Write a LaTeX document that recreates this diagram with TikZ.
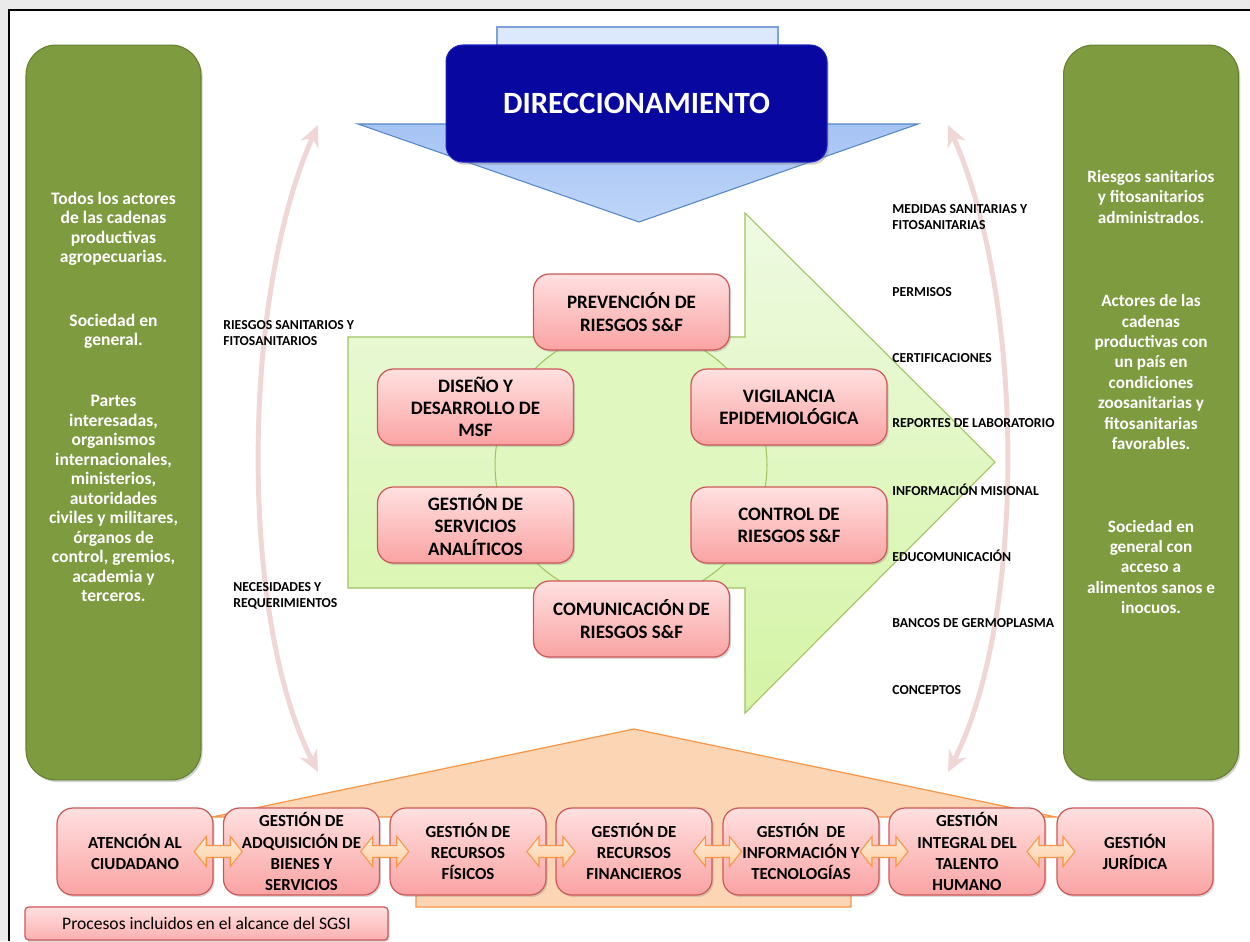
\documentclass[tikz,border=0pt]{standalone}
\usepackage{fontspec}
\setmainfont{Carlito}
\usetikzlibrary{arrows.meta,shadows,calc}
\definecolor{oliveg}{RGB}{126,155,63}
\definecolor{olivedk}{RGB}{100,128,45}
\definecolor{navy}{RGB}{8,8,160}
\definecolor{navytop}{RGB}{30,30,190}
\definecolor{bluetri}{RGB}{165,195,244}
\definecolor{bluetribot}{RGB}{190,213,248}
\definecolor{blueedge}{RGB}{85,135,200}
\definecolor{bluerect}{RGB}{220,232,251}
\definecolor{bluerectedge}{RGB}{126,161,214}
\definecolor{grtop}{RGB}{238,250,226}
\definecolor{grbot}{RGB}{212,244,164}
\definecolor{gredge}{RGB}{160,195,95}
\definecolor{circfill}{RGB}{224,248,192}
\definecolor{ptop}{RGB}{255,224,224}
\definecolor{pbot}{RGB}{250,163,163}
\definecolor{pedge}{RGB}{205,88,88}
\definecolor{ofill}{RGB}{252,214,180}
\definecolor{oedge}{RGB}{247,150,70}
\definecolor{afill}{RGB}{253,222,188}
\definecolor{arcc}{RGB}{240,214,213}
\definecolor{pagegray}{RGB}{234,234,234}
\begin{document}
\begin{tikzpicture}[x=0.02cm,y=-0.02cm,
  pbox/.style={draw=pedge, line width=0.7pt, rounded corners=9pt, top color=ptop, bottom color=pbot,
    align=center, text=black, inner xsep=2pt, inner ysep=0pt,
    drop shadow={opacity=0.3,shadow xshift=0.9pt,shadow yshift=-1.1pt}},
  cbox/.style={pbox, minimum width=3.92cm, minimum height=1.52cm, font=\bfseries\fontsize{10.8}{12.7}\selectfont},
  bbox/.style={pbox, minimum width=3.12cm, minimum height=1.74cm, font=\bfseries\fontsize{9.6}{12}\selectfont},
  gbox/.style={fill=oliveg, draw=olivedk, line width=0.6pt, rounded corners=17pt, minimum width=3.5cm, minimum height=14.7cm,
    drop shadow={opacity=0.35,shadow xshift=1pt,shadow yshift=-1.2pt}},
  gtext/.style={text=white, align=center, inner sep=0pt},
  lab/.style={font=\bfseries\fontsize{7.8}{9}\selectfont, align=left, anchor=west, inner sep=0pt},
  arcline/.style={draw=arcc, line width=2.8pt, {Stealth[length=12pt,width=11pt]}-{Stealth[length=12pt,width=11pt]}},
  darr/.style={draw=oedge, line width=0.6pt, top color=afill!60!white, bottom color=afill!80!oedge}
]
\useasboundingbox (0,0) rectangle (1250,941);
% page frame
\fill[pagegray] (0,0) rectangle (1250,941);
\fill[white] (9,10) rectangle (1250,941);
\draw[black, line width=1.3pt] (9,941) -- (9,10) -- (1250,10);

% side boxes
\node[gbox] (lbox) at (113.5,412.5) {};
\node[gbox] (rbox) at (1151,412.5) {};
\node[gtext, font=\bfseries\fontsize{10}{11.1}\selectfont] (ltxt) at (113.5,397)
  {Todos los actores\\de las cadenas\\productivas\\agropecuarias.\\[25pt]
   Sociedad en\\general.\\[23.5pt]
   Partes\\interesadas,\\organismos\\internacionales,\\ministerios,\\autoridades\\civiles y militares,\\órganos de\\control, gremios,\\academia y\\terceros.};
\node[gtext, font=\bfseries\fontsize{9.8}{11.6}\selectfont] (rtxt) at (1151,392)
  {Riesgos sanitarios\\y fitosanitarios\\administrados.\\[36pt]
   Actores de las\\cadenas\\productivas con\\un país en\\condiciones\\zoosanitarias y\\fitosanitarias\\favorables.\\[35.5pt]
   Sociedad en\\general con\\acceso a\\alimentos sanos e\\inocuos.};

% top: direccionamiento
\draw[draw=bluerectedge, fill=bluerect, line width=0.6pt] (497,27) rectangle (778,60);
\draw[draw=blueedge, line width=0.6pt, top color=bluetri, bottom color=bluetribot] (358,124) -- (918,124) -- (639,222) -- cycle;
\node[fill=navy, draw=navytop, line width=0.6pt, rounded corners=9.5pt, minimum width=7.62cm, minimum height=2.34cm,
  text=white, font=\bfseries\fontsize{17.6}{20}\selectfont,
  drop shadow={opacity=0.4,shadow xshift=1pt,shadow yshift=-1.5pt}] (dir) at (636.5,103.5) {DIRECCIONAMIENTO};

% green arrow
\draw[draw=gredge, line width=0.6pt, top color=grtop, bottom color=grbot]
  (348,337) -- (745,337) -- (745,213) -- (995,462) -- (745,713) -- (745,588) -- (348,588) -- cycle;
\draw[draw=gredge, line width=0.6pt, fill=circfill] (631,465) circle[radius=2.72cm];

% curved pink arrows
\coordinate (lt) at (318,125);
\coordinate (lb) at (318,772);
\coordinate (rt) at (948,125);
\coordinate (rb) at (948,772);
\draw[arcline] (lt) .. controls (240,300) and (240,620) .. (lb);
\draw[arcline] (rt) .. controls (1026,300) and (1026,620) .. (rb);

% core process boxes
\node[cbox] (prev) at (631.5,312) {PREVENCIÓN DE\\RIESGOS S\&F};
\node[cbox] (dis) at (475.5,407) {DISEÑO Y\\DESARROLLO DE\\MSF};
\node[cbox] (vig) at (789,407) {VIGILANCIA\\EPIDEMIOLÓGICA};
\node[cbox] (gsa) at (475.5,525) {GESTIÓN DE\\SERVICIOS\\ANALÍTICOS};
\node[cbox] (ctl) at (789,525) {CONTROL DE\\RIESGOS S\&F};
\node[cbox] (com) at (631.5,619) {COMUNICACIÓN DE\\RIESGOS S\&F};

% labels
\node[lab] (l1) at (223,333) {RIESGOS SANITARIOS Y\\FITOSANITARIOS};
\node[lab] (l2) at (233,596) {NECESIDADES Y\\REQUERIMIENTOS};
\node[lab] (r1) at (892,217) {MEDIDAS SANITARIAS Y\\FITOSANITARIAS};
\node[lab] (r2) at (892,292) {PERMISOS};
\node[lab] (r3) at (892,358) {CERTIFICACIONES};
\node[lab] (r4) at (892,423) {REPORTES DE LABORATORIO};
\node[lab] (r5) at (892,490) {INFORMACIÓN MISIONAL};
\node[lab] (r6) at (892,556) {EDUCOMUNICACIÓN};
\node[lab] (r7) at (892,623) {BANCOS DE GERMOPLASMA};
\node[lab] (r8) at (892,690) {CONCEPTOS};

% support: orange house
\draw[draw=oedge, line width=0.7pt, fill=ofill]
  (212,817) -- (634,729) -- (1056,817) -- (851,817) -- (851,907) -- (416,907) -- (416,817) -- cycle;

% support boxes
\node[bbox] (b1) at (135,851.5) {ATENCIÓN AL\\CIUDADANO};
\node[bbox] (b2) at (301.5,851.5) {GESTIÓN DE\\ADQUISICIÓN DE\\BIENES Y\\SERVICIOS};
\node[bbox] (b3) at (468,851.5) {GESTIÓN DE\\RECURSOS\\FÍSICOS};
\node[bbox] (b4) at (634,851.5) {GESTIÓN DE\\RECURSOS\\FINANCIEROS};
\node[bbox] (b5) at (801,851.5) {GESTIÓN\ \ DE\\INFORMACIÓN Y\\TECNOLOGÍAS};
\node[bbox] (b6) at (967,851.5) {GESTIÓN\\INTEGRAL DEL\\TALENTO\\HUMANO};
\node[bbox] (b7) at (1135,851.5) {GESTIÓN\\JURÍDICA};

% double arrows between support boxes
\foreach \a/\b in {b1/b2,b2/b3,b3/b4,b4/b5,b5/b6,b6/b7}{
  \coordinate (m-\a) at ($(\a.east)!0.5!(\b.west)$);
  \draw[darr] ($(m-\a)+(-24,0)$) -- ++(12,-15) -- ++(0,9) -- ++(24,0) -- ++(0,-9) -- ++(12,15)
     -- ++(-12,15) -- ++(0,-9) -- ++(-24,0) -- ++(0,9) -- cycle;
}

% legend
\node[pbox, rounded corners=2pt, minimum width=7.26cm, minimum height=0.66cm, font=\fontsize{10}{11}\selectfont,
  top color=ptop, bottom color=pbot!80!ptop] (lg) at (206.5,923.5) {Procesos incluidos en el alcance del SGSI};
\end{tikzpicture}
\end{document}
